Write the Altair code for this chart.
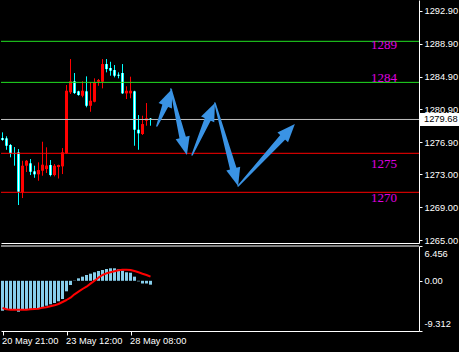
import math
import altair as alt
import pandas as pd

# ---------------- data ----------------
opens = [1277.42, 1277.38, 1276.57, 1275.56, 1275.68, 1270.81, 1274.05, 1274.34, 1273.36, 1273.00,
         1273.44, 1273.64, 1274.13, 1272.91, 1273.89, 1273.97, 1275.56, 1282.99, 1284.33, 1283.11,
         1282.57, 1283.11, 1281.35, 1281.84, 1284.28, 1284.28, 1286.43, 1285.95, 1285.70, 1285.13,
         1285.34, 1282.86, 1282.86, 1283.11, 1278.43, 1277.91, 1279.53, 1279.79]
highs = [1278.11, 1277.63, 1276.69, 1276.32, 1276.08, 1274.65, 1274.74, 1274.86, 1274.05, 1274.46,
         1276.97, 1276.29, 1274.74, 1274.25, 1274.17, 1276.20, 1283.88, 1287.04, 1285.34, 1283.18,
         1284.33, 1284.93, 1284.20, 1284.69, 1284.61, 1287.04, 1287.04, 1286.71, 1286.31, 1285.42,
         1286.43, 1283.72, 1284.89, 1283.18, 1280.22, 1280.14, 1281.68, 1279.86]
lows = [1277.09, 1275.99, 1275.07, 1274.05, 1269.26, 1270.11, 1273.28, 1272.91, 1272.58, 1272.22,
        1272.83, 1273.16, 1272.75, 1272.75, 1272.49, 1273.03, 1275.47, 1282.78, 1282.78, 1282.57,
        1282.38, 1281.16, 1280.62, 1281.77, 1283.79, 1283.47, 1285.42, 1285.01, 1284.81, 1284.69,
        1282.78, 1282.17, 1282.26, 1276.48, 1275.99, 1277.79, 1278.92, 1278.92]
closes = [1277.18, 1276.48, 1275.56, 1275.47, 1270.88, 1274.05, 1274.65, 1273.31, 1273.00, 1273.52,
          1274.17, 1274.07, 1272.91, 1274.05, 1274.13, 1275.68, 1283.18, 1284.33, 1282.90, 1282.66,
          1283.18, 1281.35, 1281.96, 1284.20, 1284.48, 1286.43, 1285.82, 1285.62, 1285.01, 1285.01,
          1282.86, 1283.18, 1283.18, 1278.43, 1277.99, 1279.12, 1279.82, 1279.68]

macd_hist = [-5.55, -5.42, -5.42, -5.42, -5.73, -5.42, -5.36, -5.36, -5.23, -5.10,
             -4.92, -4.62, -4.36, -4.12, -3.80, -3.38, -1.95, -0.78, 0.05, 0.46,
             0.77, 1.08, 1.32, 1.58, 1.82, 2.00, 2.19, 2.32, 2.32, 2.13,
             1.89, 1.58, 1.50, 0.77, -0.10, -0.50, -0.50, -0.72]
macd_signal = [-5.05, -5.29, -5.36, -5.36, -5.36, -5.36, -5.36, -5.29, -5.23, -5.17,
               -4.98, -4.92, -4.73, -4.55, -4.30, -3.93, -3.56, -3.13, -2.51, -2.02,
               -1.52, -1.09, -0.53, 0.02, 0.58, 1.08, 1.39, 1.58, 1.76, 1.95,
               2.06, 2.06, 2.00, 1.82, 1.58, 1.32, 1.08, 0.77]

x_tick_index = [0, 16, 32]
x_tick_labels = ["20 May 21:00", "23 May 12:00", "28 May 08:00"]

price_ticks = [1265.00, 1269.00, 1273.00, 1276.90, 1280.90, 1284.90, 1288.90, 1292.90]
macd_ticks = [-9.312, 0.0, 6.456]
macd_tick_labels = ["-9.312", "0.00", "6.456"]

level_prices = [1289.20, 1284.20, 1275.56, 1270.81]
level_colors = ["#22e022", "#22e022", "#ff0000", "#ff0000"]
current_price = 1279.68

label_texts = ["1289", "1284", "1275", "1270"]
label_prices = [1288.79, 1284.70, 1274.29, 1270.15]
label_index = [92.1, 92.1, 92.1, 92.1]

arrow_tail_index = [38.6, 42.1, 47.4, 53.1, 58.9]
arrow_tail_price = [1278.89, 1283.39, 1275.35, 1281.69, 1271.58]
arrow_tip_index = [42.4, 46.1, 53.1, 58.9, 73.1]
arrow_tip_price = [1283.39, 1275.35, 1281.69, 1271.58, 1279.13]

# ---------------- layout / style ----------------
PLOT_W = 418
MAIN_H = 243
MACD_H = 85
X_DOMAIN = [-0.375, 104.125]
PRICE_DOMAIN = [1264.635, 1294.232]
MACD_DOMAIN = [macd_ticks[0], macd_ticks[-1]]
FONT = "Liberation Sans"
FS = 9.3
ARROW = "#3a93e4"
CYAN = "#00ffff"
RED = "#ff0000"
GRAY = "#c0c0c0"

px_per_bar = PLOT_W / (X_DOMAIN[1] - X_DOMAIN[0])
px_per_price = MAIN_H / (PRICE_DOMAIN[1] - PRICE_DOMAIN[0])

n = len(opens)
candles = pd.DataFrame({"i": list(range(n)), "open": opens, "high": highs,
                        "low": lows, "close": closes})
candles["dir"] = ["up" if c >= o else "down" for o, c in zip(opens, closes)]

xs = alt.Scale(domain=X_DOMAIN, nice=False, zero=False, padding=0)
ys = alt.Scale(domain=PRICE_DOMAIN, nice=False, zero=False, padding=0)
x_main_axis = alt.Axis(labels=False, ticks=False, grid=False, domain=True,
                       domainColor="white", title=None)
y_main_axis = alt.Axis(orient="right", values=price_ticks, format=".2f", grid=False,
                       domainColor="white", tickColor="white", tickSize=3,
                       labelColor="white", labelFont=FONT, labelFontSize=FS,
                       labelPadding=2, title=None, labelFlush=False,
                       labelOverlap=False, labelBound=False)


def X(field):
    return alt.X(field, type="quantitative", scale=xs, axis=x_main_axis)


def Y(field):
    return alt.Y(field, type="quantitative", scale=ys, axis=y_main_axis)


base = alt.Chart(candles)
wicks = base.mark_rule(strokeWidth=1).encode(
    x=X("i"), y=Y("low"), y2="high",
    color=alt.Color("dir:N", scale=alt.Scale(domain=["up", "down"], range=[RED, CYAN]),
                    legend=None))
up_bodies = base.transform_filter("datum.dir == 'up'").mark_bar(
    width=3, color=RED).encode(x=X("i"), y=Y("open"), y2="close")
down_bodies = base.transform_filter("datum.dir == 'down'").mark_bar(
    width=3, color=CYAN).encode(x=X("i"), y=Y("open"), y2="close")
down_fill = base.transform_filter("datum.dir == 'down'").mark_bar(
    width=1, color="white").encode(x=X("i"), y=Y("open"), y2="close")

levels = pd.DataFrame({"p": level_prices + [current_price], "c": level_colors + [GRAY]})
level_rules = alt.Chart(levels).mark_rule(strokeWidth=1).encode(
    y=Y("p"), color=alt.Color("c:N", scale=None))

labels = pd.DataFrame({"t": label_texts, "p": label_prices, "i": label_index})
label_marks = alt.Chart(labels).mark_text(
    align="left", baseline="middle", font="Liberation Serif", fontSize=13,
    color="#e000e0").encode(x=X("i"), y=Y("p"), text="t:N")

# arrows: tapered shaft (trail) + head (custom symbol)
HEAD_LEN = 18.0
HEAD_PATH = "M0,-1L0.8,1L-0.8,1Z"
shaft_rows, head_rows = [], []
for k, (ti, tp, hi, hp) in enumerate(zip(arrow_tail_index, arrow_tail_price,
                                         arrow_tip_index, arrow_tip_price)):
    dx = (hi - ti) * px_per_bar
    dy = -(hp - tp) * px_per_price
    L = math.hypot(dx, dy)
    ux, uy = dx / L, dy / L
    back = HEAD_LEN * 0.8
    shaft_rows.append({"k": k, "o": 0, "i": ti, "p": tp, "w": 1.5})
    shaft_rows.append({"k": k, "o": 1, "i": hi - ux * back / px_per_bar,
                       "p": hp + uy * back / px_per_price, "w": 7})
    half = HEAD_LEN / 2
    ang = math.degrees(math.atan2(ux, -uy)) % 360
    head_rows.append({"k": k, "i": hi - ux * half / px_per_bar,
                      "p": hp + uy * half / px_per_price, "a": ang})

shafts = alt.Chart(pd.DataFrame(shaft_rows)).mark_trail(color=ARROW).encode(
    x=X("i"), y=Y("p"), detail="k:N", order="o:Q",
    size=alt.Size("w:Q", scale=None, legend=None))
heads = alt.Chart(pd.DataFrame(head_rows)).mark_point(
    filled=True, opacity=1, shape=HEAD_PATH, color=ARROW, size=HEAD_LEN ** 2).encode(
    x=X("i"), y=Y("p"), angle=alt.Angle("a:Q", scale=None))

cur = pd.DataFrame({"p": [current_price]})
half_box = 6.5 / px_per_price
box = alt.Chart(cur).transform_calculate(
    lo=f"datum.p - {half_box}", hi=f"datum.p + {half_box}").mark_rect(color="white").encode(
    x=alt.value(PLOT_W + 1), x2=alt.value(PLOT_W + 40), y=Y("lo"), y2="hi")
box_text = alt.Chart(cur).mark_text(
    align="left", baseline="middle", color="black", font=FONT, fontSize=FS).encode(
    x=alt.value(PLOT_W + 5), y=Y("p"), text=alt.Text("p:Q", format=".2f"))

main = alt.layer(wicks, up_bodies, down_bodies, down_fill, level_rules, label_marks,
                 shafts, heads, box, box_text).properties(width=PLOT_W, height=MAIN_H)

# ---------------- MACD panel ----------------
macd = pd.DataFrame({"i": list(range(n)), "h": macd_hist, "s": macd_signal})

x_expr = " : ".join(f"datum.value == {v} ? '{t}'" for v, t in zip(x_tick_index, x_tick_labels)) + " : ''"
y_expr = " : ".join(f"abs(datum.value - ({v})) < 1e-6 ? '{t}'" for v, t in zip(macd_ticks, macd_tick_labels)) + " : ''"

xl_axis = alt.Axis(values=x_tick_index, labelExpr=x_expr, grid=False, domainColor="white",
                   tickColor="white", tickSize=4, labelColor="white", labelFont=FONT,
                   labelFontSize=FS, labelAlign="left", labelBaseline="top", labelPadding=1,
                   labelOffset=-1, title=None, labelFlush=False, labelOverlap=False,
                   labelBound=False)
ym = alt.Scale(domain=MACD_DOMAIN, nice=False, zero=False, padding=0)
ym_axis = alt.Axis(orient="right", values=macd_ticks, labelExpr=y_expr, grid=False,
                   domainColor="white", tickColor="white", tickSize=3, labelColor="white",
                   labelFont=FONT, labelFontSize=FS, labelPadding=2, labelFlush=True,
                   labelFlushOffset=-3, title=None, labelOverlap=False, labelBound=False)


def XL(field):
    return alt.X(field, type="quantitative", scale=xs, axis=xl_axis)


def YL(field):
    return alt.Y(field, type="quantitative", scale=ym, axis=ym_axis)


bars = alt.Chart(macd).mark_bar(width=3, color="#87ceeb").encode(
    x=XL("i"), y=YL("h"), y2=alt.datum(0))
signal = alt.Chart(macd).mark_line(color=RED, strokeWidth=2, strokeJoin="round").encode(
    x=XL("i"), y=YL("s"))
top_rule = alt.Chart(pd.DataFrame({"v": [MACD_DOMAIN[1]]})).mark_rule(
    color="white", strokeWidth=1).encode(y=YL("v"))
anchor = alt.Chart(pd.DataFrame({"z": [0]})).mark_rect(opacity=0).encode(
    x=alt.value(10), x2=alt.value(11), y=alt.value(MACD_H + 20), y2=alt.value(MACD_H + 21))

lower = alt.layer(bars, signal, top_rule, anchor).properties(width=PLOT_W, height=MACD_H)

chart = alt.vconcat(main, lower, spacing=3, bounds="flush", padding=0,
                    background="#000000").configure_view(strokeWidth=0)

chart.save("out.html", embed_options={"renderer": "svg", "actions": False})
